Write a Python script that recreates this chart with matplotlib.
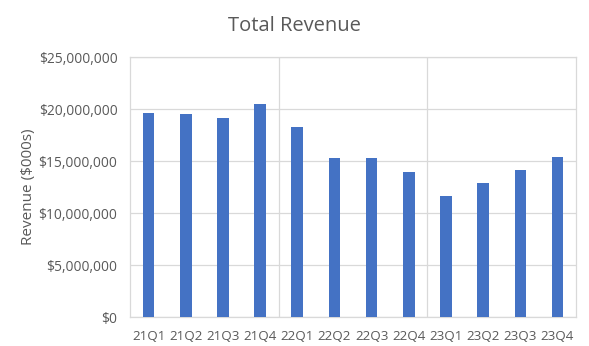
import matplotlib
matplotlib.use("Agg")
import matplotlib.pyplot as plt
from matplotlib.ticker import FuncFormatter, MultipleLocator

quarters = ["21Q1", "21Q2", "21Q3", "21Q4", "22Q1", "22Q2", "22Q3", "22Q4",
            "23Q1", "23Q2", "23Q3", "23Q4"]
revenue = [19_600_000, 19_500_000, 19_100_000, 20_500_000, 18_300_000, 15_300_000,
           15_300_000, 13_950_000, 11_600_000, 12_900_000, 14_100_000, 15_400_000]
year_breaks = [3.5, 7.5]

TEXT = "#595959"
GRID = "#d9d9d9"
BAR = "#4472c4"

plt.rcParams["font.family"] = ["Open Sans", "DejaVu Sans"]

fig = plt.figure(figsize=(5.89, 3.46), dpi=100)
ax = fig.add_axes([0.2207, 0.0838, 0.7573, 0.7512])

x = range(len(quarters))
ax.bar(x, revenue, width=0.31, color=BAR, zorder=3)

ax.set_xlim(-0.5, len(quarters) - 0.5)
ax.set_ylim(0, 25_000_000)
ax.yaxis.set_major_locator(MultipleLocator(5_000_000))
ax.yaxis.set_major_formatter(FuncFormatter(lambda v, _: f"${v:,.0f}"))
ax.set_xticks(list(x))
ax.set_xticklabels(quarters)

ax.grid(axis="y", color=GRID, linewidth=0.9, zorder=0)
for xb in year_breaks:
    ax.axvline(xb, color=GRID, linewidth=0.9, zorder=0)
for side in ax.spines.values():
    side.set_color(GRID)
    side.set_linewidth(0.9)

ax.tick_params(axis="y", length=0, labelsize=9.9, colors=TEXT, pad=9)
ax.tick_params(axis="x", length=0, labelsize=9.6, colors=TEXT, pad=9)
ax.set_ylabel("Revenue ($000s)", fontsize=11, color=TEXT, labelpad=2)
fig.suptitle("Total Revenue", x=0.5, y=0.955, fontsize=14.5, color=TEXT)

fig.savefig("out.png", dpi=100)
